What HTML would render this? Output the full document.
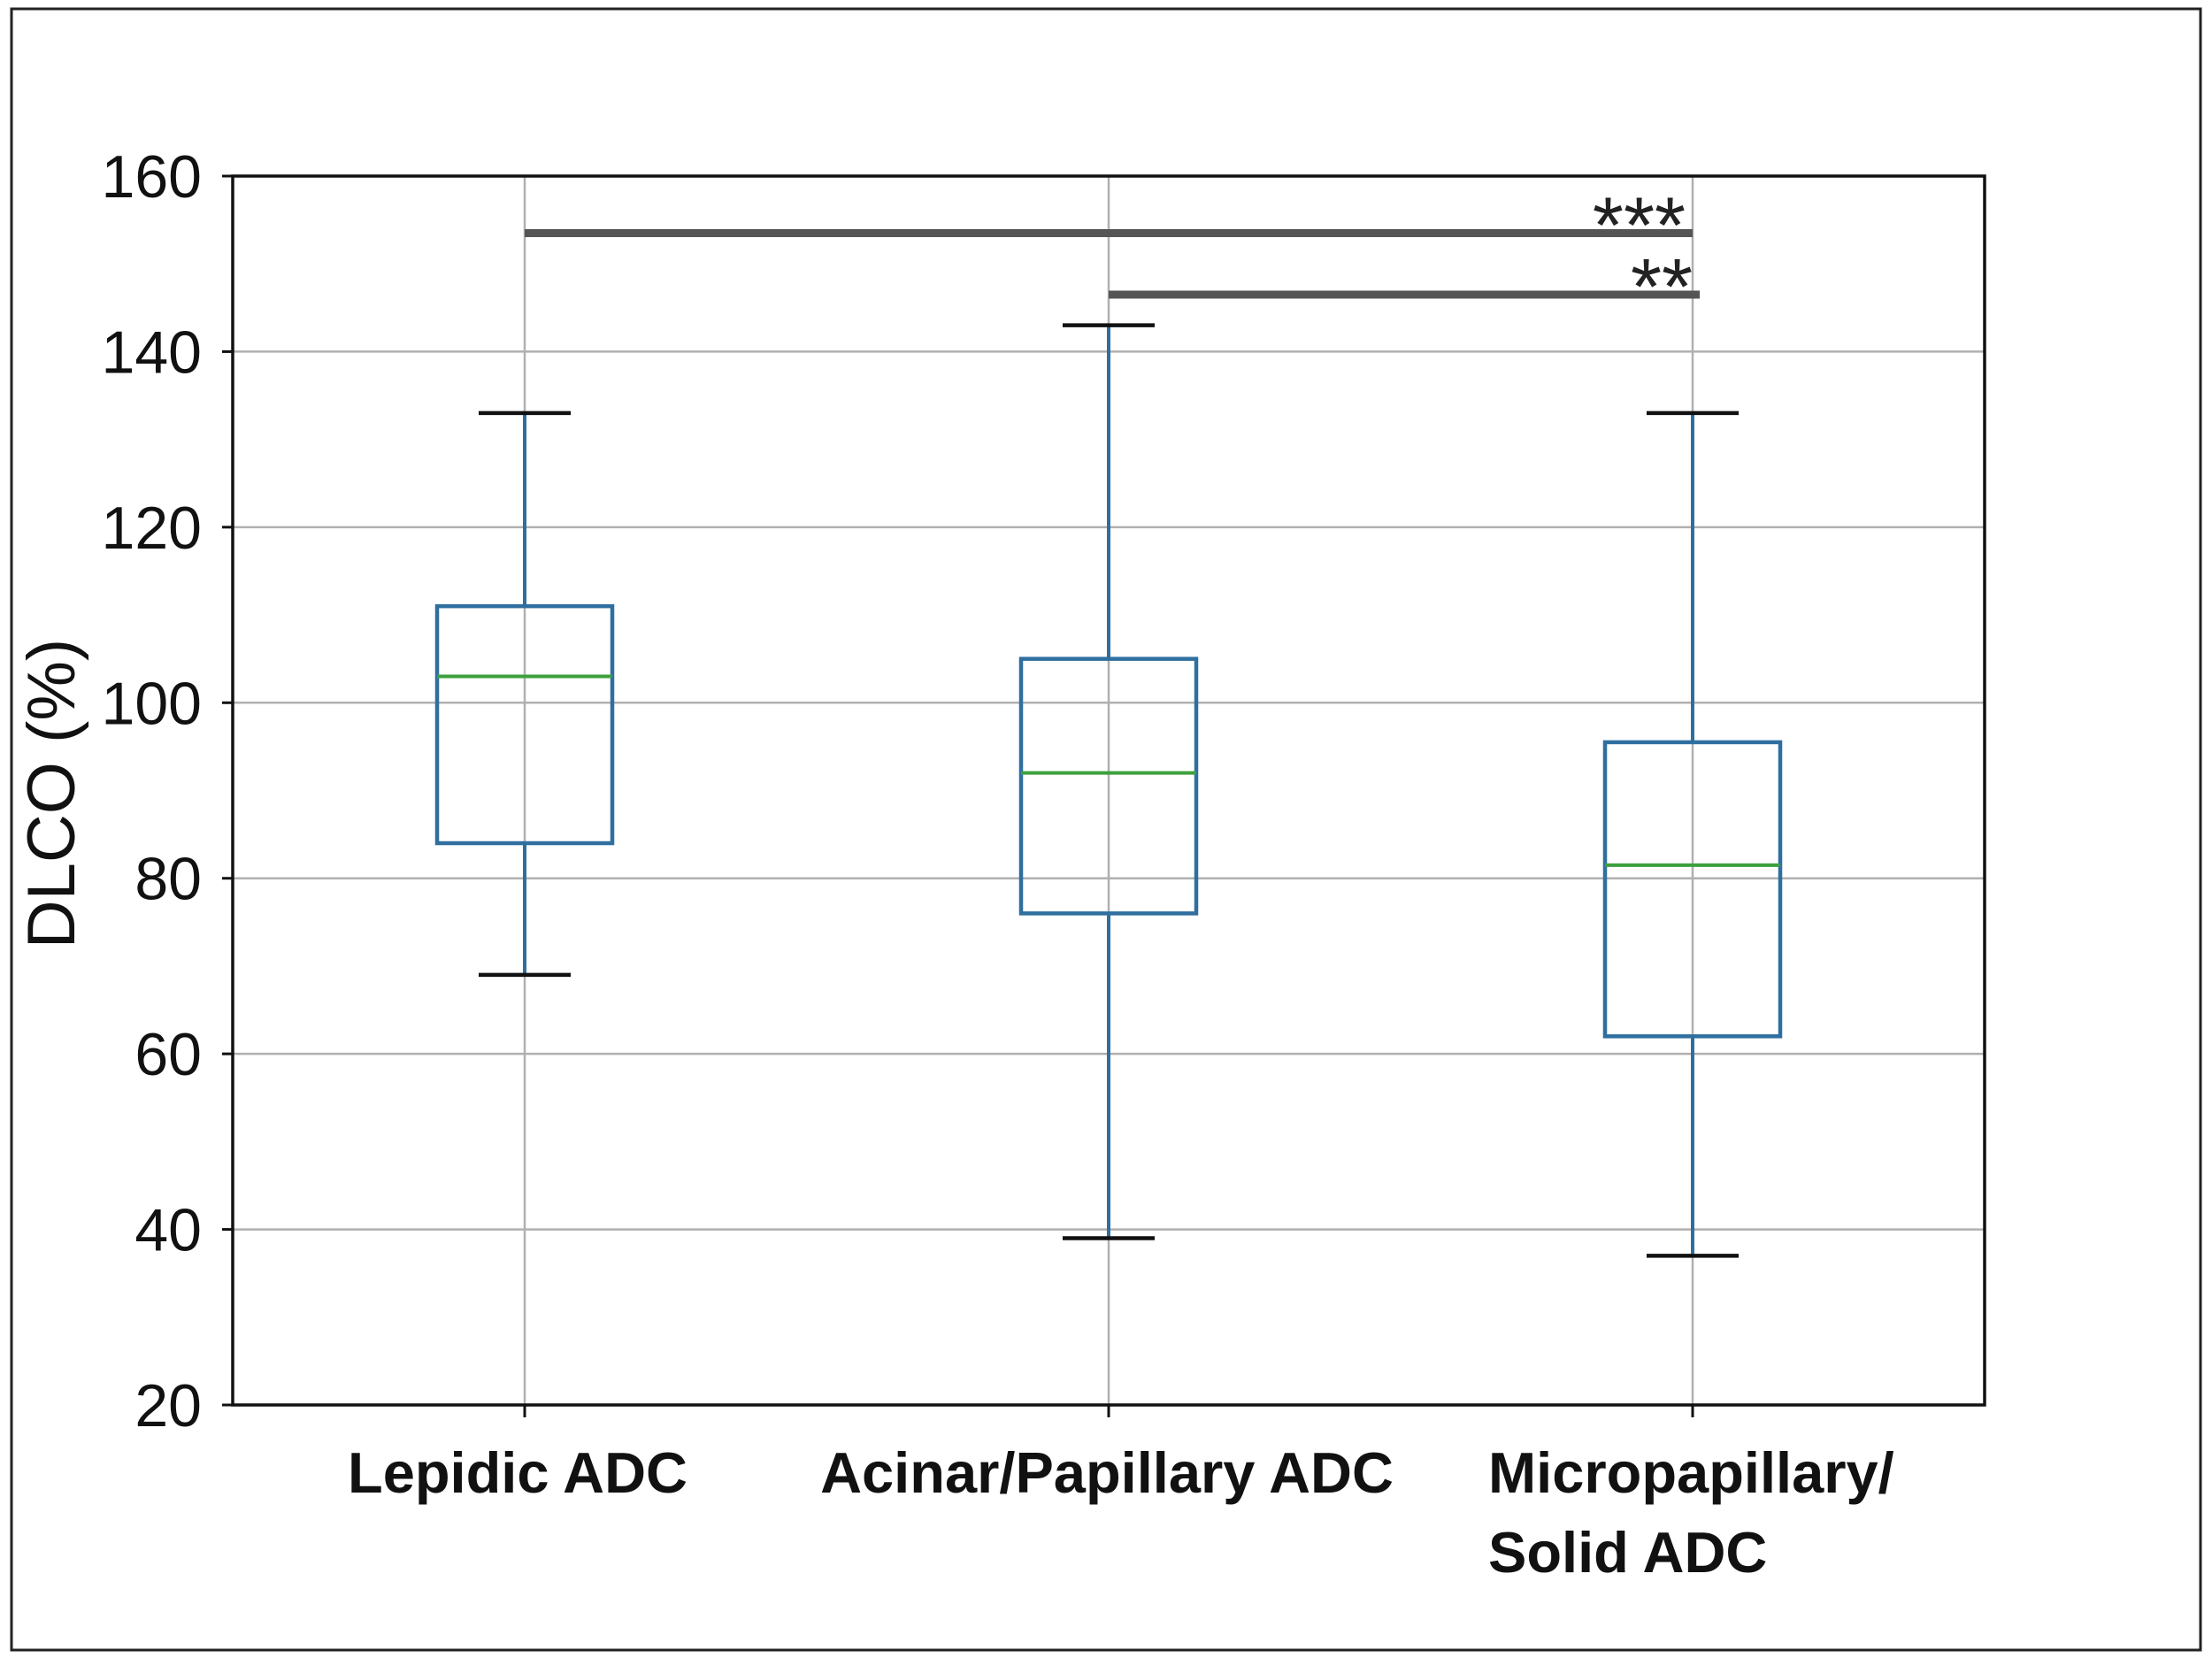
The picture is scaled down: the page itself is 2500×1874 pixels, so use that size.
<!DOCTYPE html>
<html><head><meta charset="utf-8"><style>
html,body{margin:0;padding:0;background:#fff;}
svg{display:block;font-family:"Liberation Sans",sans-serif;}
</style></head><body>
<svg id="chart" width="2500" height="1874" viewBox="0 0 2500 1874" xmlns="http://www.w3.org/2000/svg">
<rect x="13" y="10" width="2474" height="1855" fill="#fff" stroke="#222" stroke-width="3"/>
<g id="grid"></g>
<g id="boxes"></g>
<g id="sig"></g>
<g id="axes"></g>
</svg>
<script>
const categories = ["Lepidic ADC", "Acinar/Papillary ADC", "Micropapillary/ Solid ADC"];
const whiskerLow = [69, 39, 37];
const q1 = [84, 76, 62];
const medians = [103, 92, 81.5];
const q3 = [111, 105, 95.5];
const whiskerHigh = [133, 143, 133];
const yTicks = [20, 40, 60, 80, 100, 120, 140, 160];
const sigFrom = [0, 1];
const sigTo = [2, 2];
const sigLevel = [153.5, 146.5];
const sigLabels = ["***", "**"];

const NS = "http://www.w3.org/2000/svg";
const L = 263, R = 2243, T = 199, B = 1588;
const yMin = 20, yMax = 160;
const y = v => B - (v - yMin) / (yMax - yMin) * (B - T);
const xPos = [593, 1253, 1913];
const x = i => xPos[0] + i * (xPos[1] - xPos[0]);
function mk(tag, attrs, parent) {
  const e = document.createElementNS(NS, tag);
  for (const k in attrs) e.setAttribute(k, attrs[k]);
  parent.appendChild(e);
  return e;
}
const grid = document.getElementById('grid');
const boxes = document.getElementById('boxes');
const sig = document.getElementById('sig');
const axes = document.getElementById('axes');

yTicks.forEach(t => {
  const g = mk('line', {x1: L, x2: R, y1: y(t), y2: y(t), stroke: '#b0b0b0', 'stroke-width': 2.5}, grid);
  
  
  const tk = mk('line', {x1: L - 12, x2: L, y1: y(t), y2: y(t), stroke: '#111', 'stroke-width': 3}, axes);
  
  
  const tx = mk('text', {x: 228, y: y(t) + 24, 'text-anchor': 'end', 'font-size': 68, fill: '#111'}, axes);
  tx.textContent = t;
  
  
});
categories.forEach((c, i) => {
  const g = mk('line', {x1: x(i), x2: x(i), y1: T, y2: B, stroke: '#b0b0b0', 'stroke-width': 2.5}, grid);
  
  
  const tk = mk('line', {x1: x(i), x2: x(i), y1: B, y2: B + 14, stroke: '#111', 'stroke-width': 3}, axes);
  
  
  const bw = 198, cw = 104, cx = x(i);
  const col = '#2f6f9f';
  const w1 = mk('line', {x1: cx, x2: cx, y1: y(whiskerLow[i]), y2: y(q1[i]), stroke: col, 'stroke-width': 4}, boxes);
  
  
  const w2 = mk('line', {x1: cx, x2: cx, y1: y(q3[i]), y2: y(whiskerHigh[i]), stroke: col, 'stroke-width': 4}, boxes);
  
  
  const c1 = mk('line', {x1: cx - cw / 2, x2: cx + cw / 2, y1: y(whiskerLow[i]), y2: y(whiskerLow[i]), stroke: '#111', 'stroke-width': 4.5}, boxes);
  
  
  const c2 = mk('line', {x1: cx - cw / 2, x2: cx + cw / 2, y1: y(whiskerHigh[i]), y2: y(whiskerHigh[i]), stroke: '#111', 'stroke-width': 4.5}, boxes);
  
  
  const bx = mk('rect', {x: cx - bw / 2, y: y(q3[i]), width: bw, height: y(q1[i]) - y(q3[i]), fill: 'none', stroke: col, 'stroke-width': 4.5}, boxes);
  
  
  const md = mk('line', {x1: cx - bw / 2, x2: cx + bw / 2, y1: y(medians[i]), y2: y(medians[i]), stroke: '#3ca03c', 'stroke-width': 4}, boxes);
  
  
});
sigFrom.forEach((f, k) => {
  const x2 = x(sigTo[k]) + (k === 1 ? 8 : 0);
  const ln = mk('line', {x1: x(f), x2: x2, y1: y(sigLevel[k]), y2: y(sigLevel[k]), stroke: '#555', 'stroke-width': 9}, sig);
  
  
  const tx = mk('text', {x: x2 - 8, y: y(sigLevel[k]) + 22, 'text-anchor': 'end', 'font-size': 90, fill: '#222'}, sig);
  tx.textContent = sigLabels[k];
  
  
});
const frame = mk('rect', {x: L, y: T, width: R - L, height: B - T, fill: 'none', stroke: '#111', 'stroke-width': 3.5}, axes);


const yl = mk('text', {x: 0, y: 0, transform: 'translate(84,897) rotate(-90)', 'text-anchor': 'middle', 'font-size': 76, fill: '#111'}, axes);
yl.textContent = 'DLCO (%)';


const labelSpecs = [
  {lines: ["Lepidic ADC"], x: 585, anchor: 'middle'},
  {lines: ["Acinar/Papillary ADC"], x: 1251, anchor: 'middle'},
  {lines: ["Micropapillary/", "Solid ADC"], x: 1682, anchor: 'start'}
];
labelSpecs.forEach(s => {
  s.lines.forEach((ln, j) => {
    const t = mk('text', {x: s.x, y: 1687 + j * 90, 'text-anchor': s.anchor, 'font-size': 65, 'font-weight': 'bold', fill: '#111'}, axes);
    t.textContent = ln;
    
    
  });
});
</script>
</body></html>
